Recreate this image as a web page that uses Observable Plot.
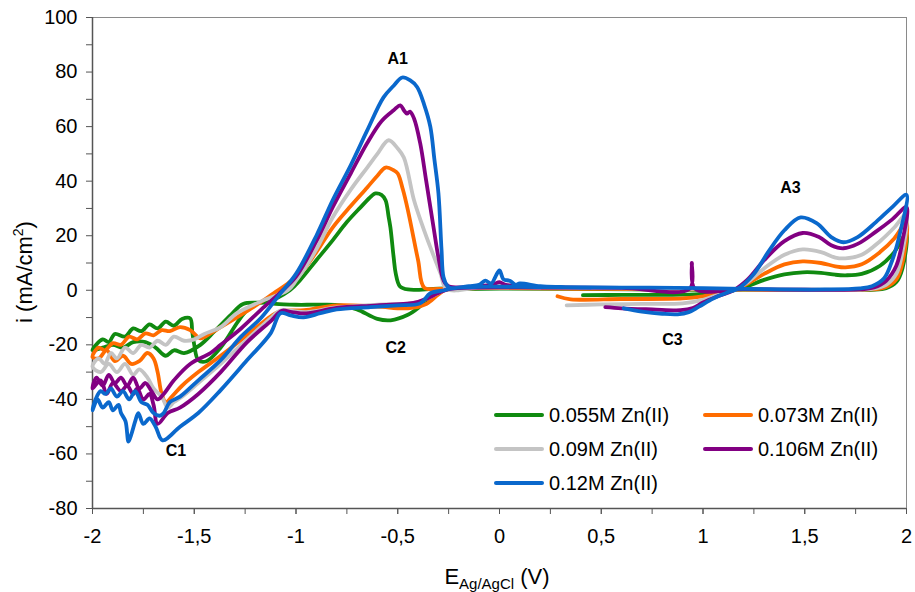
<!DOCTYPE html>
<html><head><meta charset="utf-8">
<script src="https://cdn.jsdelivr.net/npm/d3@7"></script>
<script src="https://cdn.jsdelivr.net/npm/@observablehq/plot@0.6"></script>
<style>
body{margin:0;background:#fff;font-family:Arial,"Liberation Sans",sans-serif;}
#wrap{position:relative;width:915px;height:592px;overflow:hidden;}
.leg{position:absolute;font-size:20px;color:#000;display:flex;align-items:center;white-space:nowrap;line-height:1;}
.leg .sw{display:inline-block;width:50px;height:4px;margin-right:5px;border-radius:2px;}
.ylab{position:absolute;left:24px;top:272px;transform:translate(-50%,-50%) rotate(-90deg);font-size:22px;white-space:nowrap;}
.xlab{position:absolute;left:497px;top:578px;transform:translate(-50%,-50%);font-size:22px;white-space:nowrap;}
.xlab sub{font-size:15px;vertical-align:-5px;}
.ylab sup{font-size:14px;vertical-align:9px;}
</style></head><body><div id="wrap"></div>
<script>
const seriesNames = ["0.055M Zn(II)", "0.073M Zn(II)", "0.09M Zn(II)", "0.106M Zn(II)", "0.12M Zn(II)"];
const seriesColors = ["#108a10", "#ff6c00", "#c4c4c4", "#820082", "#0a68cc"];
const xTicks = [-2, -1.5, -1, -0.5, 0, 0.5, 1, 1.5, 2];
const xMinorTicks = [-2, -1.75, -1.5, -1.25, -1, -0.75, -0.5, -0.25, 0, 0.25, 0.5, 0.75, 1, 1.25, 1.5, 1.75, 2];
const yTicks = [-80, -60, -40, -20, 0, 20, 40, 60, 80, 100];
const yMinorTicks = [-70, -50, -30, -10, 10, 30, 50, 70, 90];

const green055 = [[0.41,-1.8],[0.6,-1.7],[0.9,-1.6],[1.0,-1.3],[1.08,-0.6],[1.15,0],[1.22,1.5],[1.3,3.8],[1.4,5.8],[1.49,6.6],[1.58,6.4],[1.65,5.7],[1.7,5.5],[1.78,6],[1.87,9],[1.94,14],[2.0,21],
[1.98,8],[1.95,3],[1.9,0.8],[1.83,0.2],[1.5,0.1],[1.0,0.2],[0.5,0.4],[0,0.6],[-0.25,0.3],[-0.3,0],
[-0.35,-3],[-0.4,-6.5],[-0.45,-9],[-0.535,-11],[-0.6,-10.5],[-0.7,-7],[-0.78,-5.5],[-0.9,-5.3],[-1.0,-5.3],[-1.1,-5],[-1.15,-4.5],[-1.2,-5],[-1.25,-8],[-1.29,-12],[-1.37,-21],[-1.44,-26],[-1.48,-25.6],[-1.5,-20],[-1.51,-15],[-1.52,-10.3],[-1.56,-10.5],[-1.6,-13],[-1.64,-11.5],[-1.68,-14],[-1.72,-12.5],[-1.76,-15],[-1.8,-14],[-1.84,-17],[-1.89,-16],[-1.92,-19],[-1.95,-18],[-2,-22],
[-1.95,-21],[-1.9,-20],[-1.85,-21],[-1.8,-19],[-1.74,-19],[-1.69,-21],[-1.64,-24],[-1.6,-22],[-1.55,-23],[-1.47,-20],[-1.4,-15],[-1.32,-9],[-1.26,-5],[-1.14,-4.2],[-1.03,0],[-0.98,3.7],[-0.9,11],[-0.82,18.3],[-0.75,25],[-0.683,30.4],[-0.63,34.5],[-0.61,35.5],[-0.58,35],[-0.56,33],[-0.545,27],[-0.536,23],[-0.52,12],[-0.51,6.2],[-0.49,1.5],[-0.45,0.3],[-0.3,0.6],[0,1],[0.2,0.8]];

const orange073 = [[0.285,-2.2],[0.35,-3.3],[0.6,-3.2],[0.9,-3],[1.0,-2.2],[1.08,-1],[1.15,0],[1.22,2.5],[1.3,6],[1.4,9.5],[1.49,10.6],[1.58,10],[1.65,8.8],[1.7,8.4],[1.78,9.5],[1.87,14],[1.94,19],[2.0,25],
[1.98,10],[1.95,4],[1.9,1.2],[1.83,0.3],[1.5,0.1],[1.0,0.3],[0.5,0.5],[0,0.8],[-0.26,0.3],
[-0.3,-1.5],[-0.36,-5],[-0.45,-6.6],[-0.6,-6],[-0.8,-5.5],[-0.96,-7.3],[-1.05,-7.5],[-1.1,-8.4],[-1.15,-11],[-1.25,-17],[-1.37,-24],[-1.48,-30],[-1.56,-35],[-1.61,-39],[-1.64,-41],[-1.66,-38],[-1.68,-30],[-1.7,-25],[-1.73,-23],[-1.77,-26],[-1.81,-27],[-1.85,-24],[-1.89,-26],[-1.93,-22],[-1.97,-25],[-2,-24.5],
[-1.97,-21],[-1.94,-22],[-1.9,-19.4],[-1.86,-20],[-1.82,-17],[-1.78,-18],[-1.74,-15.8],[-1.7,-16.5],[-1.66,-14.6],[-1.62,-15],[-1.57,-13.5],[-1.52,-14.6],[-1.47,-17.6],[-1.42,-15.8],[-1.37,-13.5],[-1.29,-9.9],[-1.21,-6.2],[-1.11,-1.1],[-1.04,2.5],[-0.98,6],[-0.9,14],[-0.82,23],[-0.73,31],[-0.65,37.7],[-0.6,42],[-0.56,45],[-0.52,44],[-0.5,42.8],[-0.475,37],[-0.45,29.3],[-0.4,11],[-0.37,1],[-0.3,0.5],[0,1],[0.2,0.8]];

const grey090 = [[0.33,-5.5],[0.5,-5.2],[0.7,-5],[0.9,-4.8],[1.0,-3.5],[1.08,-1.5],[1.15,0],[1.22,3],[1.3,8],[1.4,13],[1.49,15],[1.58,14],[1.65,12],[1.7,11.7],[1.78,13],[1.87,18],[1.94,23],[2.0,28],
[1.98,14],[1.95,6],[1.9,2],[1.83,0.5],[1.6,0.2],[1.0,0.5],[0.5,0.8],[0,1],[-0.26,0.3],
[-0.3,-1],[-0.4,-4.3],[-0.6,-5.3],[-0.8,-6.3],[-0.95,-8],[-1.03,-7.5],[-1.08,-7.5],[-1.12,-10],[-1.24,-18],[-1.37,-27],[-1.48,-34],[-1.56,-39],[-1.6,-41],[-1.63,-43],[-1.66,-39],[-1.7,-36],[-1.73,-32],[-1.77,-29],[-1.8,-31],[-1.84,-27],[-1.88,-30],[-1.92,-27],[-1.96,-30],[-2,-28],
[-1.97,-25],[-1.94,-27],[-1.91,-23],[-1.88,-25],[-1.84,-21],[-1.8,-23],[-1.76,-20],[-1.72,-21],[-1.68,-18.5],[-1.64,-20],[-1.6,-17],[-1.55,-18.5],[-1.5,-18],[-1.45,-16],[-1.37,-13.5],[-1.29,-8.4],[-1.16,-3.7],[-1.04,0],[-1.0,3.5],[-0.9,15],[-0.82,26.7],[-0.73,37],[-0.65,45],[-0.6,50],[-0.545,55],[-0.5,52],[-0.47,48.7],[-0.42,33],[-0.38,24],[-0.34,15.8],[-0.29,6.2],[-0.26,0.5],[-0.1,1],[0,1.5],[0.2,0.8]];

const purple106 = [[0.52,-6.2],[0.6,-6.6],[0.75,-7],[0.89,-7.3],[0.95,-6.5],[1.0,-4.5],[1.08,-2],[1.15,0],[1.22,4],[1.3,11],[1.4,18],[1.49,21],[1.57,19.5],[1.63,16.5],[1.69,15.4],[1.76,17],[1.85,21.5],[1.93,26],[2.0,30.5],
[1.98,18],[1.95,9],[1.9,3.5],[1.84,1],[1.77,0.3],[1.5,0.2],[1.2,0.4],[0.96,0.6],[0.945,10],[0.935,0.6],[0.6,0.9],[0.2,1],[-0.1,1],[-0.25,0.4],
[-0.3,-1],[-0.4,-4.2],[-0.6,-5.5],[-0.8,-6.5],[-0.95,-8.5],[-1.02,-8],[-1.07,-7.5],[-1.12,-11],[-1.24,-19],[-1.37,-30],[-1.48,-38],[-1.57,-43],[-1.63,-45],[-1.68,-49],[-1.7,-42],[-1.72,-38],[-1.75,-40],[-1.78,-36],[-1.8,-38],[-1.83,-35],[-1.86,-37],[-1.9,-34],[-1.93,-38],[-1.96,-33],[-2,-36],
[-1.98,-32],[-1.95,-35],[-1.92,-31],[-1.89,-34],[-1.86,-32],[-1.83,-35],[-1.8,-32],[-1.77,-36],[-1.74,-34],[-1.71,-37],[-1.68,-40],[-1.65,-38],[-1.6,-33],[-1.52,-27],[-1.42,-23],[-1.37,-20],[-1.27,-14],[-1.17,-7],[-1.08,-1],[-1.0,5],[-0.9,18],[-0.82,30.4],[-0.73,43],[-0.65,54],[-0.58,62],[-0.52,66],[-0.487,67.8],[-0.47,66],[-0.455,64.8],[-0.44,65.5],[-0.42,63],[-0.39,54],[-0.36,40],[-0.324,23],[-0.3,12],[-0.275,3.7],[-0.25,1.5],[-0.1,1.5],[-0.03,2.2],[0,3],[0.03,2],[0.2,1.2],[0.4,1]];

const blue120 = [[0.61,-6.6],[0.7,-7.8],[0.8,-8.6],[0.875,-8.8],[0.93,-8],[0.98,-6],[1.05,-3],[1.12,-0.8],[1.17,0.5],[1.25,6],[1.32,14],[1.4,22],[1.48,26.7],[1.56,24.5],[1.63,19.5],[1.69,17.6],[1.76,19.5],[1.85,25],[1.93,30.5],[2.0,35],
[1.97,21.6],[1.93,11],[1.89,4.4],[1.83,1.5],[1.77,0.7],[1.6,0.3],[1.3,0.4],[1.0,0.8],[0.6,1],[0.2,1.2],[-0.1,1.3],[-0.2,1],[-0.25,0.5],
[-0.27,0],[-0.34,-1.1],[-0.39,-4.8],[-0.5,-5.5],[-0.634,-6.2],[-0.8,-7],[-0.88,-8.4],[-0.963,-9.9],[-1.027,-9.2],[-1.076,-8.4],[-1.125,-15.8],[-1.24,-25.6],[-1.37,-36.6],[-1.48,-45],[-1.57,-50],[-1.656,-55],[-1.69,-50],[-1.72,-47],[-1.75,-49],[-1.775,-45],[-1.79,-48],[-1.81,-53],[-1.823,-55.5],[-1.838,-48],[-1.86,-45],[-1.872,-42],[-1.9,-44],[-1.92,-41],[-1.95,-43],[-1.975,-40],[-2,-44],
[-1.985,-40],[-1.96,-37],[-1.936,-38],[-1.91,-36],[-1.88,-39],[-1.85,-37],[-1.82,-40],[-1.79,-37],[-1.76,-41],[-1.73,-42],[-1.7,-45],[-1.67,-46],[-1.65,-45],[-1.62,-41],[-1.57,-39],[-1.48,-33],[-1.37,-25.6],[-1.27,-17],[-1.17,-10],[-1.08,-1.5],[-1.0,6],[-0.9,20],[-0.82,33],[-0.73,46],[-0.65,58.6],[-0.57,70.7],[-0.52,75],[-0.478,78],[-0.44,77],[-0.405,74.5],[-0.37,68],[-0.34,60],[-0.32,48],[-0.3,35.5],[-0.285,15],[-0.275,4.8],[-0.255,1.5],[-0.24,0.8],[-0.15,1.5],[-0.1,2],[-0.07,3.5],[-0.04,2.5],[-0.02,5],[0,7.3],[0.02,4],[0.05,3.5],[0.08,2],[0.1,2.5],[0.2,1.5],[0.3,1.2],[0.45,1]];

const peakLabels = ["A1", "C2", "C1", "C3", "A3"];
const peakE = [-0.5, -0.51, -1.59, 0.85, 1.43];
const peakI = [85, -21, -59, -18, 37.5];

const allSeries = [green055, orange073, grey090, purple106, blue120];
const rows = [];
allSeries.forEach((pts, k) => pts.forEach(([E, I], j) => rows.push({E, I, s: seriesNames[k], j})));
const labels = peakLabels.map((t, k) => ({t, E: peakE[k], I: peakI[k]}));

const fmt = d => String(d).replace(".", ",");
const chart = Plot.plot({
  width: 915, height: 592,
  marginLeft: 92, marginRight: 9, marginTop: 17, marginBottom: 84,
  style: {fontFamily: "Arial, 'Liberation Sans', sans-serif", fontSize: "20px", color: "#000", background: "#fff", overflow: "visible"},
  x: {domain: [-2, 2]},
  y: {domain: [-80, 100]},
  color: {domain: seriesNames, range: seriesColors},
  marks: [
    Plot.frame({stroke: "#8a8a8a", strokeWidth: 1}),
    Plot.axisX({ticks: xMinorTicks, tickSize: 6, tickFormat: () => "", label: null, stroke: "#555"}),
    Plot.axisX({ticks: xTicks, tickSize: 6, tickPadding: 14, tickFormat: fmt, label: null, stroke: "#555", fontSize: 20}),
    Plot.axisY({ticks: yMinorTicks, tickSize: 6, tickFormat: () => "", label: null, stroke: "#555"}),
    Plot.axisY({ticks: yTicks, tickSize: 6, tickPadding: 9, tickFormat: d => String(d), label: null, stroke: "#555", fontSize: 20}),
    Plot.ruleX([-2], {stroke: "#555", strokeWidth: 1.5}),
    Plot.ruleY([-80], {stroke: "#555", strokeWidth: 1.5}),
    Plot.line(rows, {x: "E", y: "I", z: "s", stroke: "s", strokeWidth: 3.8, curve: "catmull-rom", strokeLinejoin: "round", strokeLinecap: "round"}),
    Plot.text(labels, {x: "E", y: "I", text: "t", fontWeight: "bold", fontSize: 16, fill: "#000"})
  ]
});
const wrap = document.getElementById("wrap");
wrap.appendChild(chart);

const legPos = [[494, 415], [703, 415], [494, 449], [703, 449], [494, 483]];
seriesNames.forEach((n, k) => {
  const d = document.createElement("div");
  d.className = "leg";
  d.style.left = legPos[k][0] + "px";
  d.style.top = (legPos[k][1] - 10) + "px";
  d.style.height = "20px";
  d.innerHTML = `<span class="sw" style="background:${seriesColors[k]}"></span><span>${n}</span>`;
  wrap.appendChild(d);
});
const yl = document.createElement("div");
yl.className = "ylab";
yl.innerHTML = "i (mA/cm<sup>2</sup>)";
wrap.appendChild(yl);
const xl = document.createElement("div");
xl.className = "xlab";
xl.innerHTML = "E<sub>Ag/AgCl</sub> (V)";
wrap.appendChild(xl);
</script>
</body></html>
